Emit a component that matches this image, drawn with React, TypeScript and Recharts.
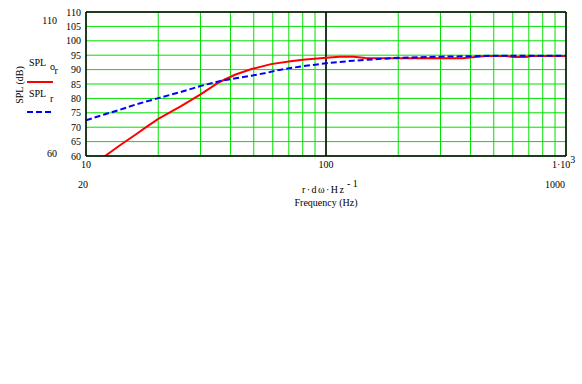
import React from "react";
import { LineChart, Line, XAxis, YAxis, CartesianGrid, ReferenceLine } from "recharts";

const redFreq = [12, 14, 16, 18, 20, 25, 30, 36, 42, 49, 59, 70, 80, 100, 114, 130, 146, 200, 300, 370, 463, 560, 600, 680, 720, 1000];
const redSPL = [60, 64, 67.3, 70.3, 72.9, 77.4, 81.4, 85.7, 88.3, 90.2, 91.9, 92.8, 93.4, 94.1, 94.5, 94.5, 94.0, 93.9, 93.9, 93.9, 94.7, 94.7, 94.4, 94.4, 94.7, 94.7];

const blueFreq = [10, 12, 14, 16, 20, 25, 30, 36, 42, 49, 56, 64, 80, 100, 130, 160, 200, 300, 440, 500, 1000];
const blueSPL = [72.4, 74.5, 76.2, 77.8, 80.1, 82.3, 84.3, 86.0, 87.0, 87.9, 88.8, 89.9, 91.2, 92.2, 93.1, 93.6, 94.1, 94.5, 94.7, 94.8, 94.8];

const xTicks = [10, 20, 30, 40, 50, 60, 70, 80, 90, 100, 200, 300, 400, 500, 600, 700, 800, 900, 1000];
const yTicks = [60, 65, 70, 75, 80, 85, 90, 95, 100, 105, 110];

const redData = redFreq.map((f, i) => ({ f, v: redSPL[i] }));
const blueData = blueFreq.map((f, i) => ({ f, v: blueSPL[i] }));

const FONT = "'Liberation Serif', 'Times New Roman', serif";

const XTick = (props: any) => {
  const { x, y, payload } = props;
  const v = payload.value;
  const base = { fontFamily: FONT, fontSize: 10, fill: "#000" };
  if (v === 10 || v === 100) {
    return (
      <text x={x} y={y + 11.5} textAnchor="middle" {...base}>
        {String(v)}
      </text>
    );
  }
  if (v === 1000) {
    return (
      <text x={x - 14} y={y + 11.5} textAnchor="start" {...base}>
        1·10
        <tspan dy={-5}>3</tspan>
      </text>
    );
  }
  return <g />;
};

export default function App() {
  const t = { fontFamily: FONT, fontSize: 10, fill: "#000" };
  return (
    <div style={{ position: "absolute", left: 0, top: 0, width: 582, height: 384, background: "#fff" }}>
      <LineChart
        width={582}
        height={384}
        margin={{ top: 12, right: 16, left: 0, bottom: 208 }}
      >
        <CartesianGrid stroke="#00e000" strokeWidth={1} horizontal vertical />
        <XAxis
          type="number"
          dataKey="f"
          scale="log"
          domain={[10, 1000]}
          ticks={xTicks}
          allowDataOverflow
          height={20}
          tickLine={false}
          axisLine={false}
          tickSize={0}
          tickMargin={0}
          interval={0}
          tick={<XTick />}
        />
        <YAxis
          type="number"
          domain={[60, 110]}
          ticks={yTicks}
          allowDataOverflow
          width={86}
          tickLine={false}
          axisLine={false}
          tickSize={0}
          tickMargin={5}
          interval={0}
          tick={{ fontFamily: FONT, fontSize: 10, fill: "#000" }}
        />
        <ReferenceLine x={100} stroke="#000" strokeWidth={1.5} />
        <Line
          data={redData}
          dataKey="v"
          stroke="#ff0000"
          strokeWidth={2}
          dot={false}
          isAnimationActive={false}
          type="linear"
        />
        <Line
          data={blueData}
          dataKey="v"
          stroke="#0000ff"
          strokeWidth={2}
          strokeDasharray="6 3"
          dot={false}
          isAnimationActive={false}
          type="linear"
        />
        <ReferenceLine x={10} stroke="#000" strokeWidth={1.5} />
        <ReferenceLine x={1000} stroke="#000" strokeWidth={1.5} />
        <ReferenceLine y={60} stroke="#000" strokeWidth={1.5} />
        <ReferenceLine y={110} stroke="#000" strokeWidth={1.5} />
      </LineChart>
      <svg
        width={582}
        height={384}
        style={{ position: "absolute", left: 0, top: 0, pointerEvents: "none" }}
      >
        <text x={57} y={23.5} textAnchor="end" {...t}>110</text>
        <text x={57} y={156.5} textAnchor="end" {...t}>60</text>
        <text x={19} y={88.5} textAnchor="middle" transform="rotate(-90 19 85)" {...t}>SPL (dB)</text>
        <text x={29} y={65.5} {...t}>
          SPL
          <tspan x={50} y={70}>o</tspan>
          <tspan x={54.5} y={73.5}>r</tspan>
        </text>
        <line x1={27} x2={53} y1={82} y2={82} stroke="#ff0000" strokeWidth={2} />
        <text x={29} y={96.5} {...t}>
          SPL
          <tspan x={50} y={102}>r</tspan>
        </text>
        <line x1={27} x2={53} y1={112} y2={112} stroke="#0000ff" strokeWidth={2} strokeDasharray="6 3" />
        <text x={83} y={187.5} textAnchor="middle" {...t}>20</text>
        <text x={565} y={187.5} textAnchor="end" {...t}>1000</text>
        <text x={302} y={193} textLength={42} lengthAdjust="spacing" {...t}>r·dω·Hz</text>
        <text x={347} y={187} {...t}>- 1</text>
        <text x={326} y={205.5} textAnchor="middle" {...t}>Frequency (Hz)</text>
      </svg>
    </div>
  );
}
